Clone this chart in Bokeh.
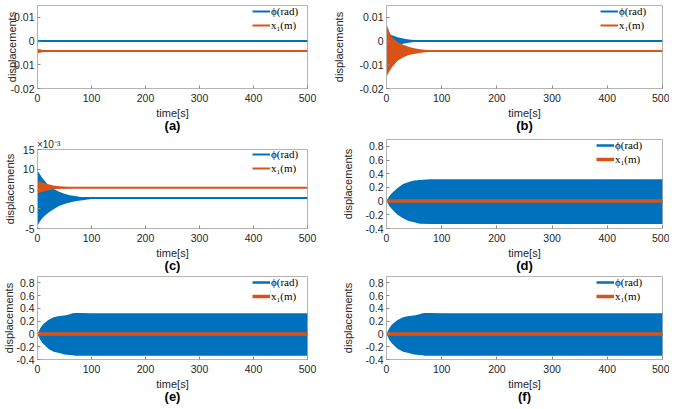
import numpy as np
from bokeh.plotting import figure
from bokeh.models import (Range1d, FixedTicker, Legend, LegendItem, Title, LinearAxis)
from bokeh.layouts import column, row
from bokeh.embed import file_html
from bokeh.resources import INLINE

BLUE = "#0072BD"
ORANGE = "#D95319"

# ---------------- data ----------------
time_ticks = [0, 100, 200, 300, 400, 500]
time_tick_labels = ["0", "100", "200", "300", "400", "500"]
ytick_small = [-0.02, -0.01, 0.0, 0.01]
ytick_small_labels = ["-0.02", "-0.01", "0", "0.01"]
ytick_c = [-5, 0, 5, 10, 15]
ytick_c_labels = ["-5", "0", "5", "10", "15"]
ytick_big = [-0.4, -0.2, 0.0, 0.2, 0.4, 0.6, 0.8]
ytick_big_labels = ["-0.4", "-0.2", "0", "0.2", "0.4", "0.6", "0.8"]

# (a)
t_a = [0, 5, 10, 15, 20, 25, 30, 500]
phi_a_up = [0.0006, 0.0005, 0.0004, 0.0003, 0.0002, 0.0001, 0.0, 0.0]
phi_a_lo = [-0.0006, -0.0005, -0.0004, -0.0003, -0.0002, -0.0001, 0.0, 0.0]
x1_a_up = [-0.0032, -0.0035, -0.0038, -0.0040, -0.0041, -0.0042, -0.0042, -0.0042]
x1_a_lo = [-0.0052, -0.0049, -0.0046, -0.0044, -0.0043, -0.0042, -0.0042, -0.0042]
phi_a_level = 0.0
x1_a_level = -0.0042

# (b)
t_b = [0, 5, 10, 20, 30, 40, 50, 60, 70, 80, 100, 500]
phi_b_up = [0.0035, 0.0030, 0.0025, 0.0016, 0.0011, 0.0007, 0.0004, 0.0002, 0.0001, 0.0, 0.0, 0.0]
phi_b_lo = [-0.0035, -0.0030, -0.0025, -0.0016, -0.0011, -0.0007, -0.0004, -0.0002, -0.0001, 0.0, 0.0, 0.0]
x1_b_up = [0.0072, 0.0040, 0.0016, -0.0004, -0.0016, -0.0024, -0.0030, -0.0034, -0.0037, -0.0040, -0.0042, -0.0042]
x1_b_lo = [-0.0150, -0.0128, -0.0110, -0.0083, -0.0069, -0.0059, -0.0054, -0.0050, -0.0047, -0.0045, -0.0043, -0.0042]
phi_b_level = 0.0
x1_b_level = -0.0042

# (c)  values in units of 1e-3
t_c = [0, 5, 10, 20, 30, 40, 50, 60, 70, 80, 100, 120, 500]
phi_c_up = [9.7, 8.6, 7.6, 6.0, 5.0, 4.3, 3.8, 3.4, 3.2, 3.0, 2.8, 2.7, 2.7]
phi_c_lo = [-4.3, -3.1, -2.2, -1.0, -0.1, 0.7, 1.2, 1.6, 1.9, 2.1, 2.5, 2.7, 2.7]
x1_c_up = [7.0, 6.8, 6.6, 6.2, 5.9, 5.7, 5.6, 5.45, 5.35, 5.3, 5.3, 5.3, 5.3]
x1_c_lo = [3.9, 4.1, 4.3, 4.7, 4.9, 5.1, 5.15, 5.2, 5.25, 5.3, 5.3, 5.3, 5.3]
phi_c_level = 2.7
x1_c_level = 5.3

# (d)
t_d = [0, 5, 10, 20, 30, 40, 50, 60, 80, 100, 500]
phi_d_up = [0.0, 0.07, 0.12, 0.19, 0.25, 0.28, 0.30, 0.31, 0.32, 0.32, 0.32]
phi_d_lo = [0.0, -0.07, -0.12, -0.20, -0.25, -0.29, -0.31, -0.33, -0.335, -0.335, -0.335]
phi_d_level = 0.0
x1_d_level = 0.0

# (e)
t_e = [0, 5, 10, 20, 30, 40, 50, 60, 65, 70, 80, 100, 500]
phi_e_up = [0.0, 0.09, 0.15, 0.22, 0.26, 0.28, 0.29, 0.31, 0.325, 0.33, 0.33, 0.325, 0.325]
phi_e_lo = [0.0, -0.09, -0.15, -0.23, -0.28, -0.30, -0.32, -0.33, -0.335, -0.34, -0.34, -0.34, -0.34]
phi_e_level = 0.0
x1_e_level = 0.0

# (f)
t_f = [0, 5, 10, 20, 30, 40, 50, 60, 65, 70, 80, 100, 500]
phi_f_up = [0.0, 0.09, 0.15, 0.22, 0.26, 0.28, 0.29, 0.31, 0.325, 0.33, 0.33, 0.325, 0.325]
phi_f_lo = [0.0, -0.09, -0.15, -0.23, -0.28, -0.30, -0.32, -0.33, -0.335, -0.34, -0.34, -0.34, -0.34]
phi_f_level = 0.0
x1_f_level = 0.0

legend_labels = ["ϕ(rad)", "x₁(m)"]
captions = ["(a)", "(b)", "(c)", "(d)", "(e)", "(f)"]
exponent_label = "×10⁻³"

# ---------------- styling helpers ----------------
SANS = "Liberation Sans"
TXT = "#262626"
BOX = "#b4b4b4"
TICK = "#8a8a8a"


def style_axis(ax):
    ax.major_tick_in = 3
    ax.major_tick_out = 0
    ax.minor_tick_line_color = None
    ax.major_tick_line_color = TICK
    ax.axis_line_color = BOX
    ax.major_label_text_font = SANS
    ax.major_label_text_color = TXT
    ax.major_label_text_font_size = "10.5px"
    ax.axis_label_text_font = SANS
    ax.axis_label_text_font_size = "11px"
    ax.axis_label_text_font_style = "normal"
    ax.axis_label_text_color = TXT


def make_fig(width, height, ml, mr, mt, mb, yr, yt, ytl, caption, ystand):
    p = figure(width=width, height=height, x_range=Range1d(0, 500),
               y_range=Range1d(*yr), output_backend="svg", toolbar_location=None,
               min_border_left=ml, min_border_right=mr, min_border_top=mt,
               min_border_bottom=mb)
    p.grid.visible = False
    p.outline_line_color = BOX
    p.background_fill_color = "white"
    p.border_fill_color = "white"
    p.xaxis.ticker = FixedTicker(ticks=time_ticks)
    p.xaxis.major_label_overrides = {t: l for t, l in zip(time_ticks, time_tick_labels)}
    p.yaxis.ticker = FixedTicker(ticks=yt)
    p.yaxis.major_label_overrides = {t: l for t, l in zip(yt, ytl)}
    style_axis(p.xaxis[0])
    style_axis(p.yaxis[0])
    p.xaxis.major_label_standoff = 5
    p.yaxis.major_label_standoff = 3
    p.xaxis.axis_label = "time[s]"
    p.xaxis.axis_label_standoff = 2
    p.yaxis.axis_label = "displacements"
    p.yaxis.axis_label_standoff = ystand
    # caption under the x-axis title: an axis without ticks carrying only a title
    cap = LinearAxis(ticker=FixedTicker(ticks=[]), axis_label=caption,
                     axis_line_color=None, major_tick_line_color=None,
                     minor_tick_line_color=None, major_label_standoff=0,
                     axis_label_standoff=-4, axis_label_text_font=SANS,
                     axis_label_text_font_size="13px",
                     axis_label_text_font_style="bold",
                     axis_label_text_color="black")
    p.add_layout(cap, "below")
    return p


def add_legend(p, r_phi, r_x1, frame_w, frame_h, right_gap):
    leg = Legend(items=[LegendItem(label=legend_labels[0], renderers=[r_phi]),
                        LegendItem(label=legend_labels[1], renderers=[r_x1])],
                 label_text_font="Liberation Serif", label_text_font_size="11px",
                 label_text_color="black", glyph_width=18, glyph_height=10,
                 label_standoff=1, spacing=0, padding=0, margin=0,
                 label_height=14, border_line_alpha=0, background_fill_alpha=0)
    lw = 18 + 1 + 32
    lh = 28
    leg.location = (frame_w - right_gap - lw, frame_h - 1 - lh)
    p.add_layout(leg)


def add_exponent(p):
    # the label is centred on the start of the frame; non-breaking spaces in
    # front move the visible text so that it begins at the frame's left edge
    ax = LinearAxis(ticker=FixedTicker(ticks=[]),
                    axis_label="\u00a0" * 8 + exponent_label,
                    axis_line_color=None, major_tick_line_color=None,
                    minor_tick_line_color=None, major_label_standoff=0,
                    axis_label_standoff=0, axis_label_text_font=SANS,
                    axis_label_text_font_size="10px",
                    axis_label_text_font_style="normal",
                    axis_label_text_color=TXT)
    ok = False
    if "axis_label_align" in LinearAxis.properties():
        for v in ("start", "left"):
            try:
                ax.axis_label_align = v
                ok = True
                break
            except Exception:
                pass
    if ok:
        p.add_layout(ax, "above")
        return 13
    p.add_layout(Title(text=exponent_label, align="left", text_font=SANS,
                       text_font_size="10px", text_font_style="normal",
                       text_color=TXT, standoff=0, offset=0), "above")
    return 20


LW, RW = 329, 340
LB_L, LB_R, RB_L, RB_R = 28, 22, 56, 7

LFW = LW - LB_L - LB_R
RFW = RW - RB_L - RB_R

# (a)
A = (5, 85, 45)
pa = make_fig(LW, sum(A), LB_L, LB_R, A[0], A[2], (-0.02, 0.015), ytick_small, ytick_small_labels, captions[0], -10)
pa.varea(x=t_a, y1=phi_a_lo, y2=phi_a_up, color=BLUE, alpha=0.8)
ra1 = pa.line(x=[t_a[0], t_a[-1]], y=[phi_a_level, phi_a_level], color=BLUE, line_width=2)
pa.varea(x=t_a, y1=x1_a_lo, y2=x1_a_up, color=ORANGE, alpha=0.9)
ra2 = pa.line(x=[t_a[0], t_a[-1]], y=[x1_a_level, x1_a_level], color=ORANGE, line_width=2)
add_legend(pa, ra1, ra2, LFW, A[1], 13)

# (b)
B = (5, 85, 45)
pb = make_fig(RW, sum(B), RB_L, RB_R, B[0], B[2], (-0.02, 0.015), ytick_small, ytick_small_labels, captions[1], 12)
pb.varea(x=t_b, y1=phi_b_lo, y2=phi_b_up, color=BLUE)
rb1 = pb.line(x=[t_b[0], t_b[-1]], y=[phi_b_level, phi_b_level], color=BLUE, line_width=2)
pb.varea(x=t_b, y1=x1_b_lo, y2=x1_b_up, color=ORANGE)
rb2 = pb.line(x=[t_b[0], t_b[-1]], y=[x1_b_level, x1_b_level], color=ORANGE, line_width=2)
add_legend(pb, rb1, rb2, RFW, B[1], 12)

# (c)
C_H = 140
pc = make_fig(LW, C_H, LB_L, LB_R, 1, 45, (-5, 15), ytick_c, ytick_c_labels, captions[2], 4)
c_top = add_exponent(pc)
pc.min_border_top = c_top
C = (c_top, C_H - c_top - 45, 45)
pc.varea(x=t_c, y1=phi_c_lo, y2=phi_c_up, color=BLUE)
rc1 = pc.line(x=[t_c[0], t_c[-1]], y=[phi_c_level, phi_c_level], color=BLUE, line_width=2)
pc.varea(x=t_c, y1=x1_c_lo, y2=x1_c_up, color=ORANGE)
rc2 = pc.line(x=[t_c[0], t_c[-1]], y=[x1_c_level, x1_c_level], color=ORANGE, line_width=2)
add_legend(pc, rc1, rc2, LFW, C[1], 13)

# (d)
D = (4, 91, 45)
pd = make_fig(RW, sum(D), RB_L, RB_R, D[0], D[2], (-0.4, 0.9), ytick_big, ytick_big_labels, captions[3], 8)
pd.varea(x=t_d, y1=phi_d_lo, y2=phi_d_up, color=BLUE)
rd1 = pd.line(x=[t_d[0], t_d[-1]], y=[phi_d_level, phi_d_level], color=BLUE, line_width=2.5)
rd2 = pd.line(x=[t_d[0], t_d[-1]], y=[x1_d_level, x1_d_level], color=ORANGE, line_width=3.5)
add_legend(pd, rd1, rd2, RFW, D[1], 16)

# (e)
E = (1, 85, 45)
pe = make_fig(LW, sum(E), LB_L, LB_R, E[0], E[2], (-0.4, 0.9), ytick_big, ytick_big_labels, captions[4], -2)
pe.varea(x=t_e, y1=phi_e_lo, y2=phi_e_up, color=BLUE)
re1 = pe.line(x=[t_e[0], t_e[-1]], y=[phi_e_level, phi_e_level], color=BLUE, line_width=2.5)
re2 = pe.line(x=[t_e[0], t_e[-1]], y=[x1_e_level, x1_e_level], color=ORANGE, line_width=3.5)
add_legend(pe, re1, re2, LFW, E[1], 13)

# (f)
F = (1, 85, 45)
pf = make_fig(RW, sum(F), RB_L, RB_R, F[0], F[2], (-0.4, 0.9), ytick_big, ytick_big_labels, captions[5], 8)
pf.varea(x=t_f, y1=phi_f_lo, y2=phi_f_up, color=BLUE)
rf1 = pf.line(x=[t_f[0], t_f[-1]], y=[phi_f_level, phi_f_level], color=BLUE, line_width=2.5)
rf2 = pf.line(x=[t_f[0], t_f[-1]], y=[x1_f_level, x1_f_level], color=ORANGE, line_width=3.5)
add_legend(pf, rf1, rf2, RFW, F[1], 16)

layout = row(column(pa, pc, pe), column(pb, pd, pf))
open("out.html", "w").write(file_html(layout, INLINE))
